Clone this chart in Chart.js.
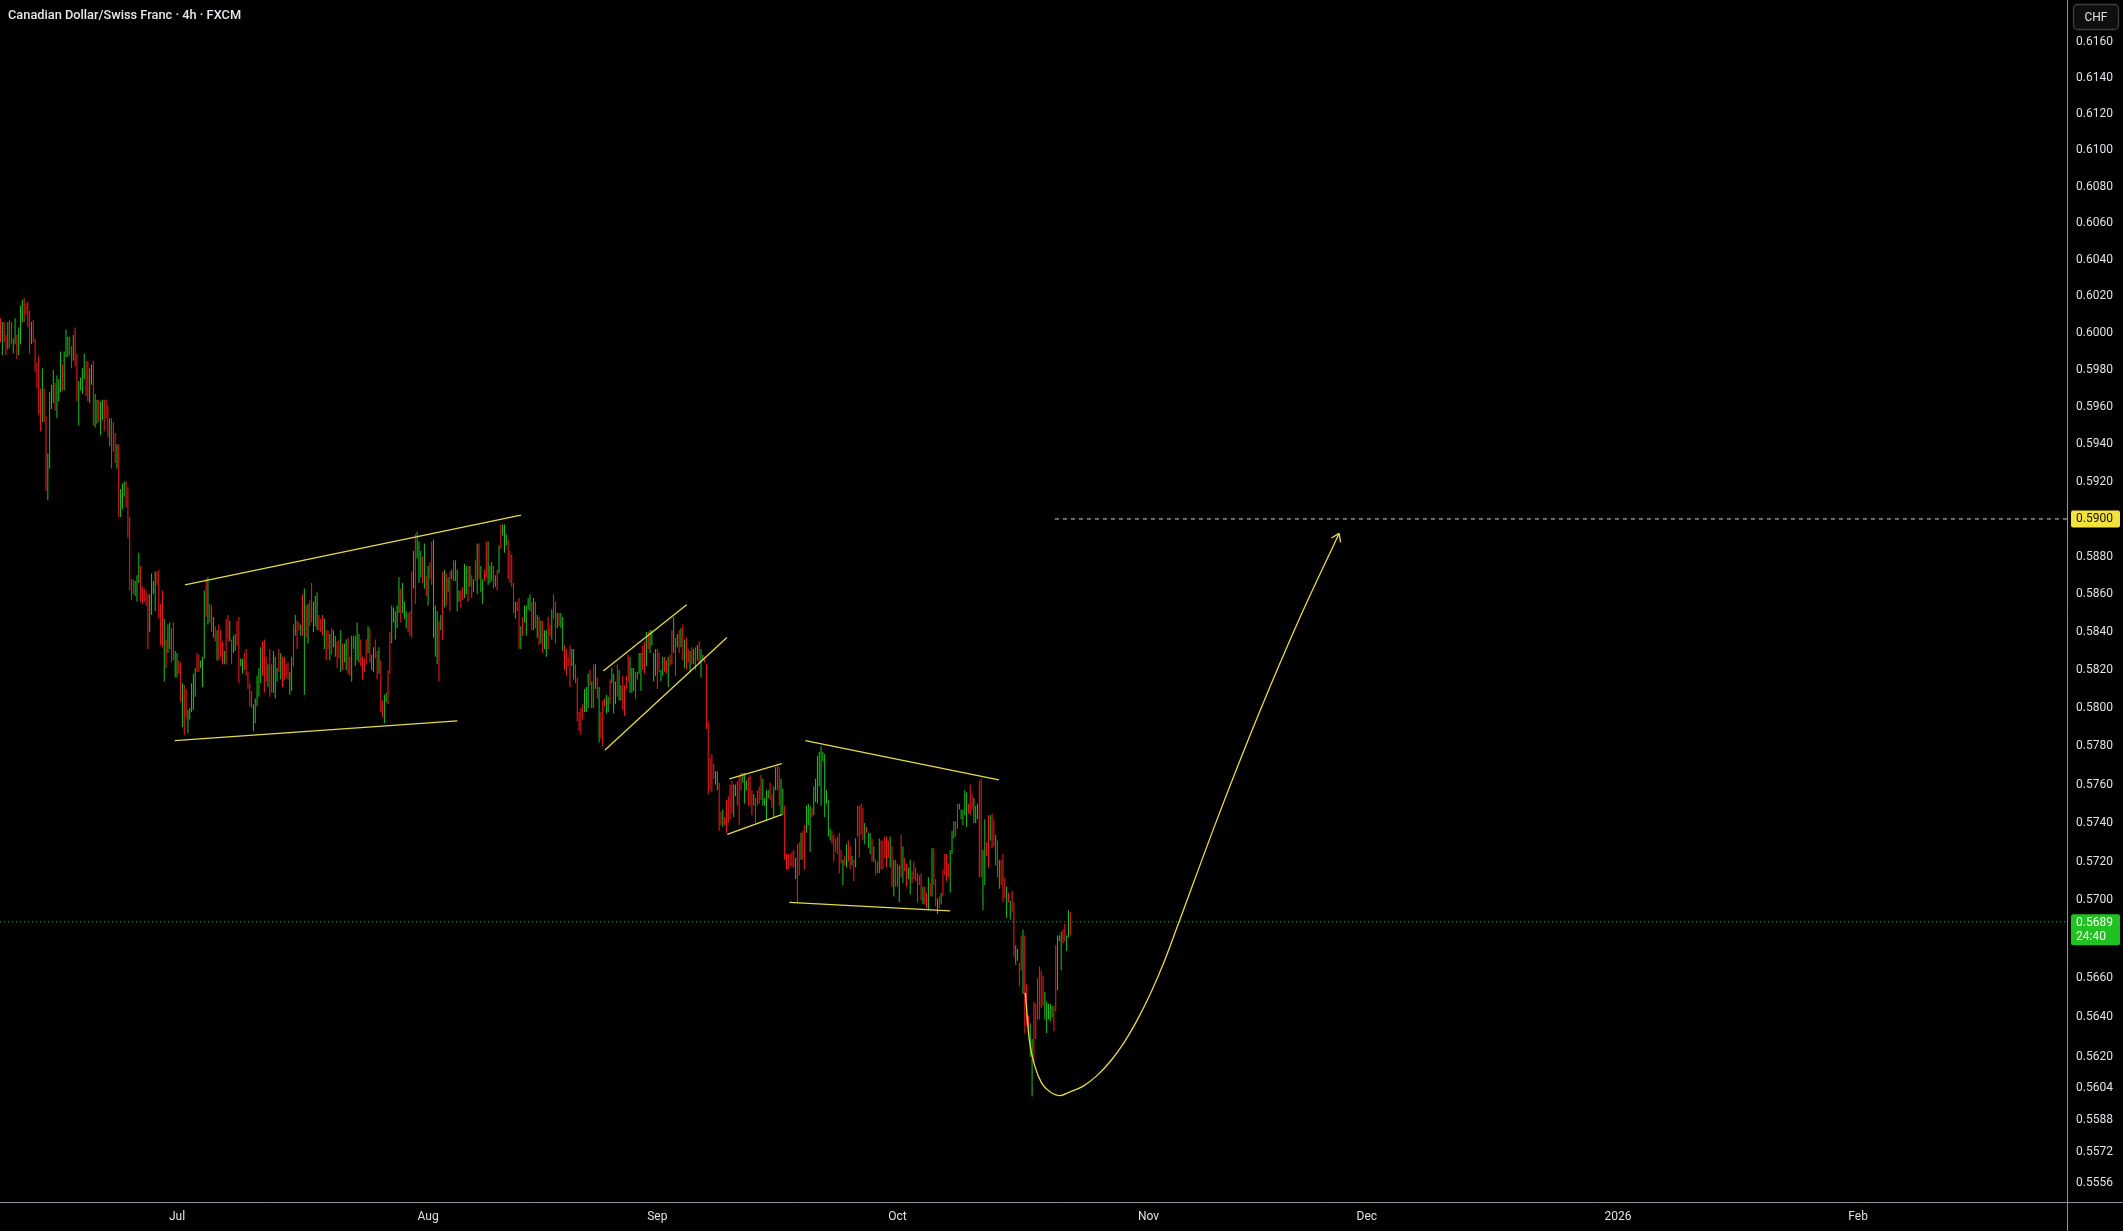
<!DOCTYPE html>
<html>
<head>
<meta charset="utf-8">
<script src="https://cdn.jsdelivr.net/npm/chart.js@4.4.1/dist/chart.umd.min.js"></script>
<style>
  html, body { margin: 0; padding: 0; background: #000; }
  #wrap { position: relative; width: 2123px; height: 1231px; }
  #title { position: absolute; left: 8px; top: 7px; font: 500 12.8px Roboto, sans-serif; color: #e6e8ec; }
</style>
</head>
<body>
<div id="wrap">
  <canvas id="chart"></canvas>
  <div id="title">Canadian Dollar/Swiss Franc · 4h · FXCM</div>
</div>
<script>
// time axis is in trading days counted from the Jul 1 open (6 bars of 4h per day)
const monthDays = [0, 23, 44, 66, 89, 109, 132, 154];
const monthLabels = ['Jul', 'Aug', 'Sep', 'Oct', 'Nov', 'Dec', '2026', 'Feb'];
const priceTicks = [0.6160, 0.6140, 0.6120, 0.6100, 0.6080, 0.6060, 0.6040, 0.6020, 0.6000, 0.5980,
  0.5960, 0.5940, 0.5920, 0.5880, 0.5860, 0.5840, 0.5820, 0.5800, 0.5780, 0.5760, 0.5740, 0.5720,
  0.5700, 0.5660, 0.5640, 0.5620, 0.5604, 0.5588, 0.5572, 0.5556];

const firstBar = -97; // first bar, in 4h bars before Jul 1

const highs = [
  0.6008,0.6006,0.6006,0.5999,0.6006,0.6007,0.6006,0.5997,0.6008,0.5999,
  0.6003,0.6015,0.6018,0.6019,0.6016,0.6017,0.6012,0.6006,0.6007,0.5997,
  0.5984,0.5988,0.5970,0.5981,0.5970,0.5955,0.5935,0.5968,0.5972,0.5980,
  0.5973,0.5977,0.5975,0.5990,0.5983,0.5990,0.6002,0.5998,0.5998,0.5993,
  0.5999,0.6003,0.5989,0.5974,0.5976,0.5981,0.5989,0.5985,0.5985,0.5981,
  0.5983,0.5985,0.5967,0.5964,0.5964,0.5963,0.5964,0.5964,0.5964,0.5961,
  0.5954,0.5954,0.5952,0.5946,0.5940,0.5940,0.5916,0.5919,0.5920,0.5920,
  0.5917,0.5901,0.5868,0.5868,0.5867,0.5870,0.5882,0.5875,0.5864,0.5863,
  0.5862,0.5860,0.5860,0.5871,0.5867,0.5872,0.5872,0.5873,0.5855,0.5862,
  0.5847,0.5836,0.5844,0.5845,0.5842,0.5845,0.5830,0.5829,0.5825,
  0.5824,0.5813,0.5812,0.5810,0.5799,0.5800,0.5813,0.5818,0.5821,0.5829,
  0.5828,0.5825,0.5827,0.5862,0.5868,0.5869,0.5855,0.5854,0.5848,0.5843,
  0.5841,0.5844,0.5841,0.5835,0.5830,0.5847,0.5849,0.5846,0.5836,0.5838,
  0.5839,0.5846,0.5848,0.5826,0.5826,0.5829,0.5831,0.5819,0.5813,0.5809,
  0.5802,0.5805,0.5817,0.5821,0.5832,0.5835,0.5836,0.5827,0.5823,0.5831,
  0.5823,0.5830,0.5827,0.5821,0.5831,0.5829,0.5827,0.5827,0.5823,0.5824,
  0.5819,0.5827,0.5844,0.5849,0.5846,0.5845,0.5844,0.5860,0.5863,0.5854,
  0.5855,0.5857,0.5866,0.5856,0.5859,0.5861,0.5849,0.5847,0.5849,0.5847,
  0.5841,0.5841,0.5839,0.5842,0.5841,0.5838,0.5835,0.5836,0.5841,0.5834,
  0.5834,0.5836,0.5837,0.5827,0.5838,0.5838,0.5838,0.5845,0.5839,
  0.5836,0.5827,0.5826,0.5836,0.5843,0.5842,0.5828,0.5832,0.5836,0.5830,
  0.5832,0.5825,0.5804,0.5807,0.5808,0.5820,0.5840,0.5854,0.5853,0.5851,
  0.5854,0.5869,0.5863,0.5866,0.5856,0.5851,0.5850,0.5851,0.5872,0.5883,
  0.5892,0.5893,0.5888,0.5883,0.5880,0.5887,0.5870,0.5875,0.5877,0.5888,
  0.5889,0.5854,0.5851,0.5846,0.5849,0.5872,0.5873,0.5871,0.5869,0.5872,
  0.5873,0.5878,0.5878,0.5873,0.5862,0.5862,0.5864,0.5876,0.5875,0.5875,
  0.5875,0.5870,0.5868,0.5878,0.5887,0.5887,0.5875,0.5868,0.5873,0.5888,
  0.5888,0.5875,0.5877,0.5875,0.5870,0.5873,0.5886,0.5897,0.5897,0.5897,
  0.5892,0.5889,0.5883,0.5881,0.5866,0.5856,0.5856,0.5858,0.5843,0.5848,
  0.5854,0.5854,0.5858,0.5860,0.5856,0.5858,
  0.5856,0.5849,0.5848,0.5846,0.5846,0.5841,0.5841,0.5848,0.5844,0.5852,
  0.5860,0.5856,0.5850,0.5850,0.5850,0.5848,0.5833,0.5831,0.5827,0.5833,
  0.5831,0.5831,0.5823,0.5816,0.5798,0.5800,0.5802,0.5810,0.5811,0.5818,
  0.5820,0.5814,0.5823,0.5823,0.5816,0.5811,0.5798,0.5804,0.5805,0.5807,
  0.5806,0.5815,0.5821,0.5818,0.5814,0.5823,0.5820,0.5812,0.5817,0.5812,
  0.5817,0.5828,0.5827,0.5821,0.5821,0.5819,0.5819,0.5829,0.5829,0.5833,
  0.5835,0.5840,0.5840,0.5841,0.5841,0.5829,0.5831,0.5831,0.5829,0.5820,
  0.5827,0.5827,0.5825,0.5827,0.5828,0.5841,0.5848,0.5837,0.5839,0.5841,
  0.5842,0.5844,0.5836,0.5837,0.5831,0.5830,0.5832,0.5831,0.5832,0.5833,
  0.5835,0.5831,0.5828,0.5827,0.5823,0.5793,
  0.5774,0.5776,0.5771,0.5767,0.5767,0.5761,0.5746,0.5747,0.5743,0.5752,
  0.5754,0.5760,0.5762,0.5760,0.5760,0.5762,0.5765,0.5766,0.5766,0.5766,
  0.5762,0.5764,0.5765,0.5757,0.5755,0.5753,0.5757,0.5759,0.5765,0.5763,
  0.5753,0.5757,0.5757,0.5761,0.5755,0.5759,0.5769,0.5770,0.5769,0.5763,
  0.5758,0.5749,0.5724,0.5724,0.5724,0.5725,0.5726,0.5722,0.5729,0.5730,
  0.5735,0.5736,0.5739,0.5749,0.5750,0.5749,0.5748,0.5759,0.5763,0.5775,
  0.5777,0.5780,0.5777,0.5776,0.5757,0.5752,0.5737,0.5736,0.5734,0.5732,
  0.5733,0.5735,0.5726,0.5721,0.5723,0.5729,0.5731,0.5728,0.5723,0.5721,
  0.5732,0.5749,0.5749,0.5750,0.5748,0.5740,0.5738,0.5735,0.5735,0.5732,
  0.5728,0.5721,0.5720,
  0.5732,0.5731,0.5731,0.5733,0.5733,0.5731,0.5733,0.5728,0.5721,0.5721,
  0.5719,0.5718,0.5734,0.5728,0.5722,0.5719,0.5717,0.5721,0.5715,0.5720,
  0.5717,0.5714,0.5713,0.5714,0.5707,0.5707,0.5704,0.5712,0.5709,0.5727,
  0.5727,0.5711,0.5701,0.5702,0.5704,0.5716,0.5724,0.5724,0.5719,0.5726,
  0.5736,0.5741,0.5741,0.5750,0.5750,0.5747,0.5747,0.5757,0.5756,0.5750,
  0.5760,0.5755,0.5753,0.5749,0.5750,0.5762,0.5763,0.5726,0.5742,0.5730,
  0.5744,0.5744,0.5745,0.5742,0.5734,0.5731,0.5721,0.5721,0.5724,0.5712,
  0.5707,0.5704,0.5700,0.5705,0.5699,0.5677,0.5675,0.5668,0.5682,0.5685,
  0.5682,0.5657,0.5641,0.5637,0.5629,0.5648,0.5647,0.5660,0.5666,0.5664,
  0.5661,0.5653,0.5648,0.5647,0.5647,0.5646,0.5646,0.5677,0.5682,0.5682,
  0.5684,0.5685,0.5688,0.5682,0.5695,0.5694
];

const lows = [
  0.5995,0.5988,0.5995,0.5988,0.5991,0.5992,0.5994,0.5989,0.5994,0.5986,
  0.5988,0.5994,0.6006,0.6006,0.6010,0.6003,0.5989,0.5994,0.5995,0.5979,
  0.5970,0.5956,0.5947,0.5952,0.5952,0.5915,0.5910,0.5927,0.5959,0.5962,
  0.5958,0.5954,0.5963,0.5968,0.5969,0.5969,0.5987,0.5987,0.5988,0.5981,
  0.5985,0.5982,0.5963,0.5950,0.5969,0.5967,0.5975,0.5966,0.5963,0.5962,
  0.5972,0.5950,0.5949,0.5951,0.5952,0.5945,0.5953,0.5947,0.5954,0.5944,
  0.5939,0.5927,0.5936,0.5930,0.5927,0.5901,0.5901,0.5905,0.5912,0.5906,
  0.5890,0.5862,0.5857,0.5860,0.5859,0.5856,0.5866,0.5856,0.5855,0.5856,
  0.5854,0.5831,0.5840,0.5849,0.5860,0.5851,0.5865,0.5847,0.5833,0.5832,
  0.5814,0.5821,0.5829,0.5831,0.5824,0.5825,0.5816,0.5816,0.5818,
  0.5803,0.5790,0.5786,0.5795,0.5787,0.5794,0.5798,0.5799,0.5806,0.5819,
  0.5819,0.5821,0.5811,0.5826,0.5848,0.5844,0.5845,0.5840,0.5837,0.5835,
  0.5825,0.5825,0.5827,0.5823,0.5823,0.5823,0.5835,0.5835,0.5823,0.5829,
  0.5830,0.5833,0.5813,0.5822,0.5818,0.5820,0.5817,0.5810,0.5801,0.5800,
  0.5788,0.5792,0.5801,0.5806,0.5813,0.5817,0.5808,0.5814,0.5811,0.5806,
  0.5808,0.5808,0.5805,0.5814,0.5819,0.5815,0.5811,0.5815,0.5816,0.5815,
  0.5807,0.5809,0.5822,0.5838,0.5831,0.5841,0.5838,0.5838,0.5807,0.5837,
  0.5834,0.5843,0.5845,0.5840,0.5843,0.5841,0.5841,0.5840,0.5838,0.5831,
  0.5825,0.5831,0.5825,0.5828,0.5832,0.5827,0.5821,0.5826,0.5819,0.5820,
  0.5824,0.5820,0.5818,0.5817,0.5814,0.5831,0.5822,0.5825,0.5824,
  0.5822,0.5815,0.5819,0.5823,0.5829,0.5824,0.5820,0.5819,0.5826,0.5815,
  0.5818,0.5798,0.5795,0.5792,0.5803,0.5802,0.5818,0.5834,0.5845,0.5836,
  0.5842,0.5850,0.5845,0.5850,0.5847,0.5842,0.5840,0.5838,0.5837,0.5863,
  0.5855,0.5879,0.5866,0.5869,0.5866,0.5863,0.5859,0.5854,0.5868,0.5865,
  0.5837,0.5827,0.5823,0.5814,0.5841,0.5836,0.5853,0.5854,0.5861,0.5851,
  0.5868,0.5867,0.5867,0.5851,0.5856,0.5853,0.5857,0.5858,0.5860,0.5856,
  0.5864,0.5858,0.5861,0.5867,0.5860,0.5868,0.5861,0.5855,0.5867,0.5869,
  0.5865,0.5866,0.5867,0.5863,0.5864,0.5862,0.5871,0.5884,0.5891,0.5882,
  0.5886,0.5868,0.5866,0.5864,0.5850,0.5847,0.5851,0.5831,0.5831,0.5838,
  0.5845,0.5838,0.5852,0.5851,0.5841,0.5841,
  0.5842,0.5837,0.5833,0.5834,0.5829,0.5831,0.5827,0.5831,0.5838,0.5836,
  0.5847,0.5834,0.5842,0.5843,0.5842,0.5830,0.5820,0.5817,0.5822,0.5811,
  0.5822,0.5815,0.5813,0.5793,0.5788,0.5786,0.5794,0.5798,0.5798,0.5800,
  0.5812,0.5800,0.5800,0.5810,0.5805,0.5782,0.5784,0.5780,0.5801,0.5797,
  0.5798,0.5802,0.5813,0.5797,0.5802,0.5806,0.5804,0.5804,0.5799,0.5796,
  0.5810,0.5814,0.5808,0.5808,0.5809,0.5805,0.5815,0.5818,0.5809,0.5820,
  0.5818,0.5822,0.5831,0.5829,0.5833,0.5814,0.5817,0.5810,0.5819,0.5814,
  0.5817,0.5819,0.5818,0.5811,0.5822,0.5823,0.5829,0.5817,0.5832,0.5829,
  0.5832,0.5825,0.5821,0.5820,0.5824,0.5819,0.5823,0.5823,0.5820,0.5825,
  0.5823,0.5816,0.5825,0.5824,0.5789,0.5755,
  0.5757,0.5756,0.5763,0.5760,0.5757,0.5736,0.5739,0.5738,0.5739,0.5735,
  0.5740,0.5742,0.5745,0.5743,0.5754,0.5749,0.5739,0.5757,0.5761,0.5750,
  0.5757,0.5749,0.5749,0.5744,0.5749,0.5740,0.5749,0.5750,0.5752,0.5749,
  0.5749,0.5741,0.5753,0.5752,0.5748,0.5743,0.5757,0.5757,0.5749,0.5744,
  0.5744,0.5721,0.5716,0.5716,0.5718,0.5717,0.5717,0.5711,0.5699,0.5713,
  0.5721,0.5721,0.5716,0.5735,0.5739,0.5725,0.5743,0.5744,0.5751,0.5750,
  0.5759,0.5749,0.5772,0.5743,0.5750,0.5733,0.5731,0.5729,0.5720,0.5725,
  0.5724,0.5714,0.5719,0.5708,0.5718,0.5717,0.5720,0.5716,0.5718,0.5710,
  0.5717,0.5733,0.5722,0.5734,0.5731,0.5729,0.5735,0.5727,0.5724,0.5720,
  0.5720,0.5713,0.5714,
  0.5714,0.5716,0.5716,0.5722,0.5717,0.5722,0.5717,0.5707,0.5702,0.5707,
  0.5707,0.5699,0.5712,0.5709,0.5715,0.5707,0.5711,0.5703,0.5709,0.5711,
  0.5710,0.5699,0.5708,0.5700,0.5698,0.5698,0.5696,0.5695,0.5702,0.5702,
  0.5708,0.5697,0.5693,0.5696,0.5698,0.5702,0.5713,0.5710,0.5712,0.5704,
  0.5724,0.5732,0.5733,0.5737,0.5747,0.5742,0.5739,0.5744,0.5738,0.5745,
  0.5744,0.5747,0.5740,0.5740,0.5742,0.5712,0.5712,0.5695,0.5708,0.5723,
  0.5717,0.5731,0.5727,0.5728,0.5718,0.5712,0.5706,0.5708,0.5699,0.5701,
  0.5691,0.5699,0.5690,0.5694,0.5671,0.5667,0.5669,0.5656,0.5664,0.5652,
  0.5632,0.5636,0.5632,0.5620,0.5600,0.5617,0.5629,0.5639,0.5639,0.5645,
  0.5646,0.5639,0.5632,0.5639,0.5638,0.5640,0.5633,0.5643,0.5654,0.5679,
  0.5664,0.5678,0.5679,0.5674,0.5681,0.5682
];

// u = close above open, d = close below open
const sides =
  'duddudduuduuuddddudddddudduuuuduuuduuuddudduuuudduuduuduudddudddud' +
  'uuuddddduuuddddduuuudddduduudduu' +
  'ddudduuuuudduuududdududdduddu' +
  'duudduuddddduuuuudddudduuududddduududdudududdu' +
  'uudddudduduudduduud' + 'duduuuddd' +
  'duduuddudduudduuuuuduuuddduduuudududduuudududududuuudduududu' +
  'duduudduuudududuuuddddudduduuuududu' +
  'duduuddudduduudddduuddddduuududududdduuduuuduudddduuuduuuddud' +
  'uuuudduudduddududududdudududuudddddd' +
  'uudduddddduuddduuudddudddduuuudduudduudddddduddudduuuduuuuuuuu' +
  'uuddddddududdududdddu' + 'duududdudddd' +
  'dududdududduudddddduddududdududddduuudduuuuuddduuudduudduddud' +
  'udddududduudduddduudddddduuuuudduuudduuduudduu';

const lastPrice = 0.5689;
const countdown = '24:40';
const targetPrice = 0.5900;
const targetFrom = 80.43;

// drawn pattern lines: [day1, price1, day2, price2]
const trendLines = [
  [0.73, 0.58649, 31.51, 0.59021],
  [-0.21, 0.57830, 25.68, 0.57933],
  [39.05, 0.58195, 46.69, 0.58544],
  [39.21, 0.57781, 50.38, 0.58371],
  [50.60, 0.57630, 55.40, 0.57710],
  [50.41, 0.57341, 55.40, 0.57444],
  [57.56, 0.57829, 75.30, 0.57625],
  [56.09, 0.56990, 70.81, 0.56946]
];

// projected path
const curveDays = [77.71, 78.08, 78.60, 79.21, 79.97, 80.89, 81.77, 83.02, 84.25, 85.49, 86.74,
  87.97, 89.22, 90.46, 91.69, 95.42, 99.14, 102.86, 106.46];
const curvePrices = [0.56526, 0.56285, 0.56150, 0.56066, 0.56023, 0.56003, 0.56021, 0.56051, 0.56103,
  0.56176, 0.56271, 0.56388, 0.56528, 0.56689, 0.56873, 0.57440, 0.57975, 0.58475, 0.58923];

const xMin = -16.215, xMax = 173.14;
const yMin = 0.554669, yMax = 0.618343;

const upColor = '#1fc21f';
const downColor = '#f71c1c';
const yellow = '#e6da4a';
const textColor = '#dfe1e6';

Chart.defaults.font.family = 'Roboto, sans-serif';

const candles = highs.map((h, i) => ({ x: (firstBar + i) / 6, y: [lows[i], h] }));
const candleColors = highs.map((h, i) => sides[i] === 'u' ? upColor : downColor);

const datasets = [{
  type: 'bar',
  data: candles,
  backgroundColor: candleColors,
  barThickness: 1,
  borderWidth: 0,
  inflateAmount: 0,
  order: 1
}];

trendLines.forEach(t => {
  datasets.push({
    type: 'line',
    data: [{ x: t[0], y: t[1] }, { x: t[2], y: t[3] }],
    borderColor: yellow, borderWidth: 1.3, pointRadius: 0, order: 0
  });
});

const curveIndex = datasets.length;
datasets.push({
  type: 'line',
  data: curveDays.map((d, i) => ({ x: d, y: curvePrices[i] })),
  borderColor: yellow, borderWidth: 1.3, pointRadius: 0,
  cubicInterpolationMode: 'monotone', order: 0
});

datasets.push({
  type: 'line',
  data: [{ x: targetFrom, y: targetPrice }, { x: xMax, y: targetPrice }],
  borderColor: '#d6d6d6', borderWidth: 1, borderDash: [4, 4], pointRadius: 0, order: 0
});

datasets.push({
  type: 'line',
  data: [{ x: xMin, y: lastPrice }, { x: xMax, y: lastPrice }],
  borderColor: upColor, borderWidth: 1, borderDash: [1, 3], pointRadius: 0, order: 2
});

const overlay = {
  id: 'overlay',
  afterDraw(chart) {
    const { ctx, chartArea: a } = chart;
    const y = chart.scales.y;
    ctx.save();

    // scale borders
    const rx = Math.round(a.right) + 0.5, by = Math.round(a.bottom) + 0.5;
    ctx.strokeStyle = '#8f9299';
    ctx.lineWidth = 1;
    ctx.beginPath();
    ctx.moveTo(rx, 0); ctx.lineTo(rx, chart.height);
    ctx.moveTo(0, by); ctx.lineTo(chart.width, by);
    ctx.stroke();

    // arrow head at the end of the projected path
    const pts = chart.getDatasetMeta(curveIndex).data;
    const tip = pts[pts.length - 1];
    let fx = pts[pts.length - 2].x, fy = pts[pts.length - 2].y;
    if (tip.cp1x !== undefined && Math.hypot(tip.x - tip.cp1x, tip.y - tip.cp1y) > 1) {
      fx = tip.cp1x; fy = tip.cp1y;
    }
    const ang = Math.atan2(tip.y - fy, tip.x - fx);
    ctx.strokeStyle = yellow;
    ctx.lineWidth = 1.3;
    ctx.beginPath();
    [-0.6, 0.6].forEach(off => {
      ctx.moveTo(tip.x, tip.y);
      ctx.lineTo(tip.x - 9 * Math.cos(ang + off), tip.y - 9 * Math.sin(ang + off));
    });
    ctx.stroke();

    // price tags
    ctx.font = '12px Roboto, sans-serif';
    ctx.textBaseline = 'middle';
    ctx.textAlign = 'left';
    const tag = (price, bg, fg, lines, top, h) => {
      const py = y.getPixelForValue(price);
      ctx.fillStyle = bg;
      ctx.beginPath();
      ctx.roundRect(a.right + 4, py + top, 49, h, 2);
      ctx.fill();
      ctx.fillStyle = fg;
      lines.forEach((t, i) => ctx.fillText(t, a.right + 9, py + top + 8.5 + i * 14));
    };
    tag(targetPrice, '#f2e33c', '#111', [targetPrice.toFixed(4)], -8.5, 17);
    tag(lastPrice, '#1fc21f', '#ffffff', [lastPrice.toFixed(4), countdown], -7.5, 31);

    // currency button
    ctx.fillStyle = '#0f0f0f';
    ctx.strokeStyle = '#3b3e45';
    ctx.beginPath();
    ctx.roundRect(a.right + 6.5, 4.5, 45, 25, 4);
    ctx.fill(); ctx.stroke();
    ctx.fillStyle = textColor;
    ctx.textAlign = 'center';
    ctx.fillText('CHF', a.right + 29, 17.5);
    ctx.restore();
  }
};

new Chart(document.getElementById('chart'), {
  type: 'bar',
  data: { datasets },
  plugins: [overlay],
  options: {
    responsive: true,
    maintainAspectRatio: false,
    animation: false,
    events: [],
    layout: { padding: 0 },
    plugins: { legend: { display: false }, tooltip: { enabled: false } },
    scales: {
      x: {
        type: 'linear', min: xMin, max: xMax, bounds: 'data', offset: false,
        grid: { display: false, drawTicks: false, offset: false },
        border: { display: false },
        afterBuildTicks: s => { s.ticks = monthDays.map(v => ({ value: v })); },
        afterFit: s => { s.height = 29; s.paddingLeft = 0; s.paddingRight = 0; },
        ticks: {
          autoSkip: false, maxRotation: 0, padding: 8, color: textColor,
          font: { size: 12 },
          callback: (v, i) => monthLabels[i]
        }
      },
      y: {
        type: 'logarithmic', position: 'right', min: yMin, max: yMax, bounds: 'data',
        grid: { display: false, drawTicks: false },
        border: { display: false },
        afterBuildTicks: s => { s.ticks = priceTicks.map(v => ({ value: v })); },
        afterFit: s => { s.width = 56; s.paddingTop = 0; s.paddingBottom = 0; },
        ticks: {
          autoSkip: false, padding: 9, color: textColor,
          font: { size: 12 },
          callback: v => Number(v).toFixed(4)
        }
      }
    }
  }
});
</script>
</body>
</html>
